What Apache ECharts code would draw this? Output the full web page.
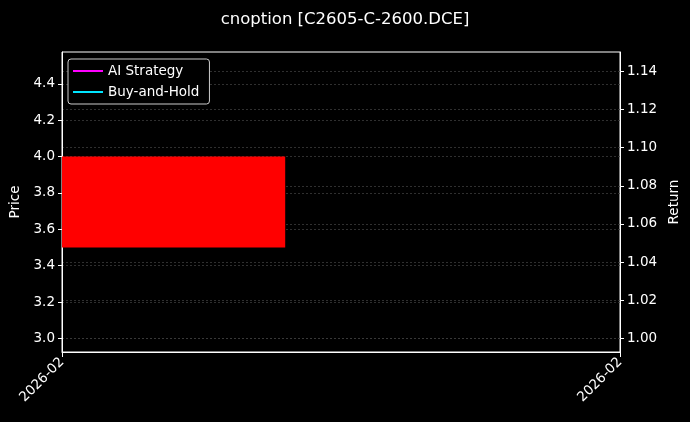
<!DOCTYPE html>
<html>
<head>
<meta charset="utf-8">
<script src="https://cdn.jsdelivr.net/npm/echarts@6/dist/echarts.min.js"></script>
<style>html,body{margin:0;padding:0;background:#000;}#c{width:690px;height:422px;}</style>
</head>
<body>
<div id="c"></div>
<script>
const xTickLabels = ['2026-02', '2026-02'];
const candleSpan = [0, 0.4];
const candleOpen = 3.5;
const candleClose = 4.0;
const strategyReturn = [[0, 1.0]];
const buyHoldReturn = [[0, 1.0]];
const priceTickValues = [3.0, 3.2, 3.4, 3.6, 3.8, 4.0, 4.2, 4.4];
const returnTickValues = [1.00, 1.02, 1.04, 1.06, 1.08, 1.10, 1.12, 1.14];
const priceRange = {min: 2.925, max: 4.575};
const returnRange = {min: 0.9928, max: 1.1502};

const chart = echarts.init(document.getElementById('c'));
const font = 'DejaVu Sans';
const gridLine = {show: true, lineStyle: {color: '#3c3c3c', type: [2, 2], width: 0.8}};
chart.setOption({
  backgroundColor: '#000',
  animation: false,
  title: {text: 'cnoption [C2605-C-2600.DCE]', left: 'center', top: 6,
    textStyle: {color: '#fff', fontSize: 16.5, fontWeight: 'normal', fontFamily: font}},
  legend: {
    left: 68, top: 59, orient: 'vertical', itemGap: 7,
    backgroundColor: '#000', borderColor: '#cccccc', borderWidth: 1, borderRadius: 3,
    padding: [5, 10, 5, 5],
    itemWidth: 30, itemHeight: 2, icon: 'rect',
    textStyle: {color: '#fff', fontSize: 13.5, fontFamily: font},
    data: ['AI Strategy', 'Buy-and-Hold']
  },
  grid: {left: 62, right: 70, top: 52, bottom: 70, show: true, borderColor: '#fff', borderWidth: 1},
  xAxis: {
    type: 'value', min: 0, max: 1, interval: 1,
    axisLine: {show: true, lineStyle: {color: '#fff'}},
    axisTick: {show: true, length: 5, lineStyle: {color: '#fff'}},
    splitLine: {show: false},
    axisLabel: {color: '#fff', fontSize: 13.5, fontFamily: font, rotate: 45, margin: 8,
      formatter: (v) => xTickLabels[Math.round(v)] || ''}
  },
  yAxis: [
    {type: 'value', min: priceRange.min, max: priceRange.max,
     name: 'Price', nameLocation: 'middle', nameGap: 36, nameRotate: 90,
     nameTextStyle: {color: '#fff', fontSize: 13.5, fontFamily: font},
     axisLine: {show: true, lineStyle: {color: '#fff'}},
     axisTick: {show: true, length: 4, lineStyle: {color: '#fff'}, customValues: priceTickValues},
     axisLabel: {color: '#fff', fontSize: 13.5, fontFamily: font, margin: 7, customValues: priceTickValues,
       formatter: (v) => v.toFixed(1)},
     splitLine: gridLine},
    {type: 'value', min: returnRange.min, max: returnRange.max, position: 'right',
     name: 'Return', nameLocation: 'middle', nameGap: 45, nameRotate: 90,
     nameTextStyle: {color: '#fff', fontSize: 13.5, fontFamily: font},
     axisLine: {show: true, lineStyle: {color: '#fff'}},
     axisTick: {show: true, length: 4, lineStyle: {color: '#fff'}, customValues: returnTickValues},
     axisLabel: {color: '#fff', fontSize: 13.5, fontFamily: font, margin: 7, customValues: returnTickValues,
       formatter: (v) => v.toFixed(2)},
     splitLine: gridLine}
  ],
  series: [
    {type: 'custom', yAxisIndex: 0, silent: true,
     data: [[candleSpan[0], candleSpan[1], candleOpen, candleClose]],
     renderItem: (params, api) => {
       const p0 = api.coord([api.value(0), api.value(3)]);
       const p1 = api.coord([api.value(1), api.value(2)]);
       return {type: 'rect', shape: {x: p0[0], y: p0[1], width: p1[0] - p0[0], height: p1[1] - p0[1]},
         style: {fill: '#ff0000'}};
     }},
    {name: 'AI Strategy', type: 'line', yAxisIndex: 1, data: strategyReturn, showSymbol: false,
     color: '#ff00ff', lineStyle: {width: 2}},
    {name: 'Buy-and-Hold', type: 'line', yAxisIndex: 1, data: buyHoldReturn, showSymbol: false,
     color: '#00e5ff', lineStyle: {width: 2}}
  ]
});
</script>
</body>
</html>
